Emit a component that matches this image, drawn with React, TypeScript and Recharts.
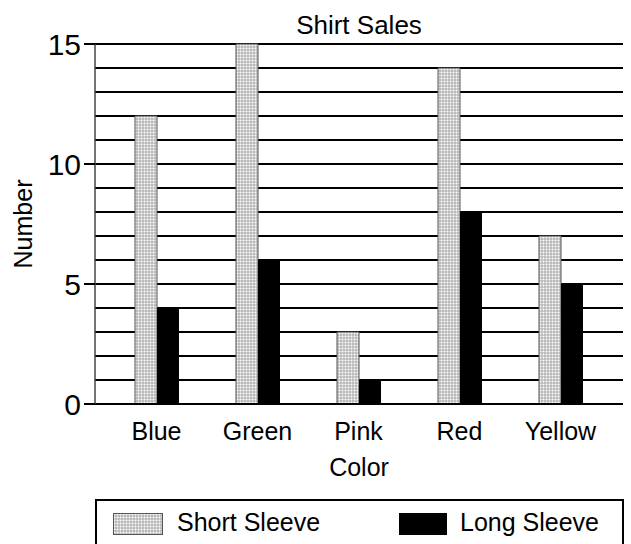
import React from "react";
import { Bar, BarChart, CartesianGrid, XAxis, YAxis } from "recharts";

const colors = ["Blue", "Green", "Pink", "Red", "Yellow"];
const shortSleeve = [12, 15, 3, 14, 7];
const longSleeve = [4, 6, 1, 8, 5];
const gridTicks = [0, 1, 2, 3, 4, 5, 6, 7, 8, 9, 10, 11, 12, 13, 14, 15];
const labeledTicks = [0, 5, 10, 15];
const seriesNames = ["Short Sleeve", "Long Sleeve"];

const FONT = '"Liberation Sans", Arial, sans-serif';
const TICK_SIZE = 11;
const TICK_MARGIN = 3;

const data = colors.map((c, i) => ({
  color: c,
  short: shortSleeve[i],
  long: longSleeve[i],
}));

const YTick = (props: any) => {
  const { x, y, payload } = props;
  if (!labeledTicks.includes(payload.value)) return null;
  return (
    <g>
      <line
        x1={x + TICK_MARGIN}
        x2={x + TICK_MARGIN + TICK_SIZE}
        y1={y}
        y2={y}
        stroke="#000"
        strokeWidth={2}
      />
      <text
        x={x}
        y={y}
        dy="0.36em"
        textAnchor="end"
        fontSize={30}
        fontFamily={FONT}
        fill="#000"
      >
        {payload.value}
      </text>
    </g>
  );
};

export default function App() {
  return (
    <div
      style={{
        position: "absolute",
        left: 0,
        top: 0,
        width: 631,
        height: 544,
        overflow: "hidden",
        background: "#fff",
        fontFamily: FONT,
      }}
    >
      <svg width={0} height={0} style={{ position: "absolute" }}>
        <defs>
          <pattern id="dots" width={3} height={3} patternUnits="userSpaceOnUse">
            <rect width={3} height={3} fill="#d4d4d4" />
            <rect x={0} y={0} width={1} height={1} fill="#ffffff" />
            <rect x={1.5} y={1.5} width={1} height={1} fill="#777" />
          </pattern>
        </defs>
      </svg>

      <div
        style={{
          position: "absolute",
          left: 95,
          top: 12,
          width: 528,
          textAlign: "center",
          fontSize: 26,
          lineHeight: "26px",
        }}
      >
        Shirt Sales
      </div>

      <BarChart
        width={631}
        height={544}
        data={data}
        margin={{ top: 44, right: 8, bottom: 68, left: 0 }}
        barGap={0}
        barSize={22}
      >
        <CartesianGrid
          horizontal
          vertical={false}
          stroke="#000"
          strokeWidth={2}
          strokeOpacity={1}
        />
        <XAxis
          dataKey="color"
          height={72}
          padding={{ left: 11, right: 12 }}
          tickLine={false}
          tickSize={0}
          tickMargin={18}
          axisLine={{ stroke: "#000", strokeWidth: 2 }}
          tick={{ fontSize: 25, fill: "#000", fontFamily: FONT }}
          label={{
            value: "Color",
            position: "insideBottom",
            offset: 0,
            fontSize: 25,
            fill: "#000",
            fontFamily: FONT,
          }}
        />
        <YAxis
          width={95}
          domain={[0, 15]}
          ticks={gridTicks}
          interval={0}
          tickSize={TICK_SIZE}
          tickMargin={TICK_MARGIN}
          tickLine={false}
          tick={<YTick />}
          axisLine={{ stroke: "#444", strokeWidth: 1.5 }}
          label={{
            value: "Number",
            angle: -90,
            position: "insideLeft",
            offset: 23,
            fontSize: 25,
            fill: "#000",
            fontFamily: FONT,
            style: { textAnchor: "middle" },
          }}
        />
        <YAxis
          yAxisId="right"
          orientation="right"
          width={0}
          tick={false}
          tickLine={false}
          axisLine={{ stroke: "#444", strokeWidth: 1.5 }}
        />
        <Bar
          dataKey="short"
          name={seriesNames[0]}
          fill="url(#dots)"
          stroke="#555"
          strokeWidth={1}
          isAnimationActive={false}
        />
        <Bar
          dataKey="long"
          name={seriesNames[1]}
          fill="#000"
          isAnimationActive={false}
        />
      </BarChart>

      <div
        style={{
          position: "absolute",
          left: 95,
          top: 499,
          width: 525,
          height: 60,
          border: "2px solid #000",
          fontSize: 25,
        }}
      >
        <div
          style={{
            position: "absolute",
            left: 16,
            top: 12,
            width: 48,
            height: 20,
            background: "url(#dots)",
            border: "1px solid #555",
          }}
        >
          <svg width={48} height={20} style={{ display: "block" }}>
            <rect width={48} height={20} fill="url(#dots)" />
          </svg>
        </div>
        <div style={{ position: "absolute", left: 80, top: 7, lineHeight: "28px" }}>
          {seriesNames[0]}
        </div>
        <div
          style={{
            position: "absolute",
            left: 302,
            top: 12,
            width: 48,
            height: 22,
            background: "#000",
          }}
        />
        <div style={{ position: "absolute", left: 363, top: 7, lineHeight: "28px" }}>
          {seriesNames[1]}
        </div>
      </div>
    </div>
  );
}
